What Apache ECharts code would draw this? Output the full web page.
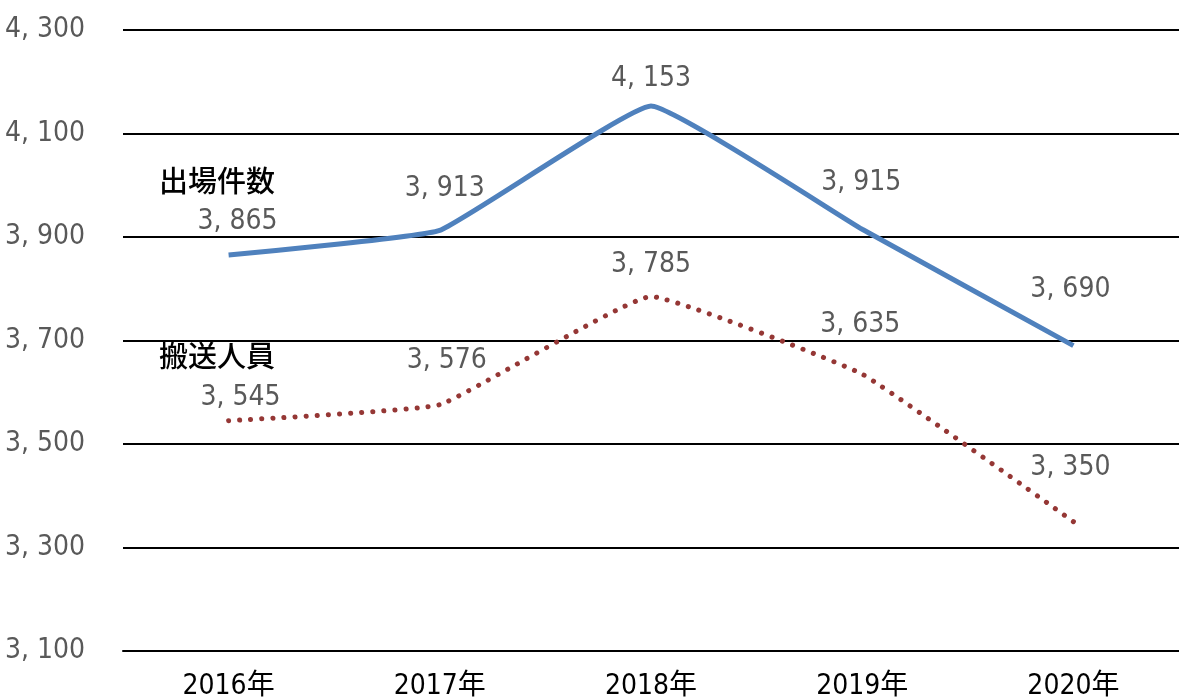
<!DOCTYPE html>
<html>
<head>
<meta charset="utf-8">
<script src="https://cdn.jsdelivr.net/npm/echarts@6/dist/echarts.min.js"></script>
<style>
  html, body { margin: 0; padding: 0; background: #fff; }
  #main { width: 1179px; height: 700px; }
</style>
</head>
<body>
<div id="main"></div>
<script>
// data
var years = ['2016年', '2017年', '2018年', '2019年', '2020年'];
var dispatches = [3865, 3913, 4153, 3915, 3690];   // 出場件数
var transported = [3545, 3576, 3785, 3635, 3350];  // 搬送人員
var yTicks = { min: 3100, max: 4300, step: 200 };

var numFont = '"DejaVu Sans Condensed", "Liberation Sans Narrow", "Noto Sans CJK JP", sans-serif';
var cjkFont = '"Noto Sans CJK JP", sans-serif';

// 3,865 -> "3, 865"
function fmt(v) {
  var s = String(v);
  return s.length > 3 ? s.slice(0, s.length - 3) + ', ' + s.slice(-3) : s;
}

// label nudges (style only)
var blueOff = [[9, 3], [5, -5], [0, 9], [-1, -10], [-3, -19]];
var redOff  = [[12, 14], [7, -7], [0, 5], [-2, -13], [-3, -17]];

function withLabels(vals, offs) {
  return vals.map(function (v, i) {
    return { value: v, label: { offset: offs[i] } };
  });
}

var labelStyle = {
  show: true, position: 'top', distance: 22, color: '#595959',
  fontSize: 28, fontFamily: numFont,
  formatter: function (p) { return fmt(p.value); }
};

var chart = echarts.init(document.getElementById('main'));
chart.setOption({
  animation: false,
  grid: { left: 123, right: 0, top: 30, bottom: 49, outerBoundsMode: 'none', containLabel: false },
  xAxis: {
    type: 'category',
    data: years,
    boundaryGap: true,
    axisLine: { lineStyle: { color: '#000', width: 2 } },
    axisTick: { show: false },
    axisLabel: { color: '#000', fontSize: 28, fontFamily: numFont, margin: 22 }
  },
  yAxis: {
    type: 'value',
    min: yTicks.min,
    max: yTicks.max,
    interval: yTicks.step,
    axisLine: { show: false },
    axisTick: { show: false },
    splitLine: { lineStyle: { color: '#000', width: 2 } },
    axisLabel: { color: '#595959', fontSize: 28, fontFamily: numFont, margin: 38,
                 padding: [8, 0, 0, 0],
                 formatter: function (v) { return fmt(v); } }
  },
  series: [
    {
      name: '出場件数',
      type: 'line',
      smooth: 0.1,
      data: withLabels(dispatches, blueOff),
      symbol: 'circle',
      symbolSize: 1,
      showSymbol: true,
      itemStyle: { color: 'rgba(0,0,0,0)' },
      lineStyle: { color: '#4f81bd', width: 5 },
      label: labelStyle
    },
    {
      name: '搬送人員',
      type: 'line',
      smooth: 0.1,
      data: withLabels(transported, redOff),
      symbol: 'circle',
      symbolSize: 1,
      showSymbol: true,
      itemStyle: { color: 'rgba(0,0,0,0)' },
      lineStyle: { color: '#953735', width: 5, type: [0.1, 11], cap: 'round' },
      label: labelStyle
    }
  ],
  graphic: [
    { type: 'text', left: 159, top: 166,
      style: { text: '出場件数', fill: '#000', fontSize: 29, fontWeight: 500, fontFamily: cjkFont } },
    { type: 'text', left: 159, top: 341,
      style: { text: '搬送人員', fill: '#000', fontSize: 29, fontWeight: 500, fontFamily: cjkFont } }
  ]
});
</script>
</body>
</html>
